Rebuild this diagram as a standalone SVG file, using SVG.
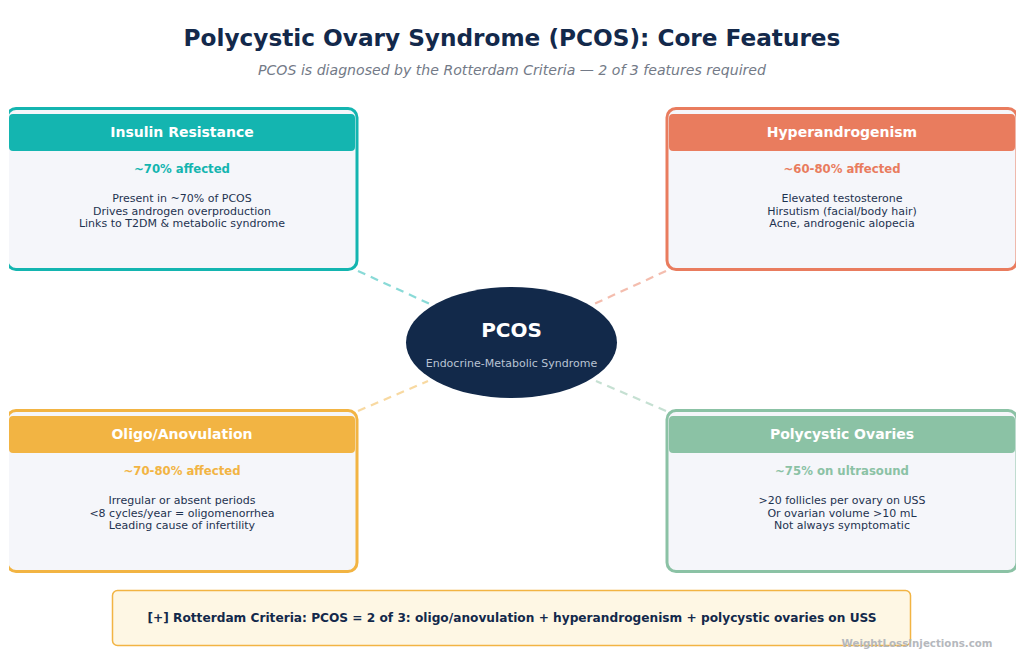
<svg xmlns="http://www.w3.org/2000/svg" width="1024" height="661" viewBox="0 0 1024 661">
<defs>
<clipPath id="vp"><rect x="9" y="0" width="1007" height="661"/></clipPath>
<style>
.card{fill:#f5f6fa;stroke-width:3}
.hdr{stroke:none}
.ht{font-family:"DejaVu Sans",sans-serif;font-weight:bold;font-size:14px;fill:#ffffff;text-anchor:middle}
.pct{font-family:"DejaVu Sans",sans-serif;font-weight:bold;font-size:11.7px;text-anchor:middle}
.body{font-family:"DejaVu Sans",sans-serif;font-size:11px;fill:#1e3350;text-anchor:middle}
.conn{fill:none;stroke-width:2.2;stroke-dasharray:8,6}
</style>
</defs>
<rect width="1024" height="661" fill="#ffffff"/>
<text x="512" y="46" text-anchor="middle" font-family="DejaVu Sans, sans-serif" font-weight="bold" font-size="23.2" fill="#13294b">Polycystic Ovary Syndrome (PCOS): Core Features</text>
<text x="512" y="75" text-anchor="middle" font-family="DejaVu Sans, sans-serif" font-style="italic" font-size="14.1" fill="#737a87">PCOS is diagnosed by the Rotterdam Criteria — 2 of 3 features required</text>

<g id="connectors">
<line class="conn" x1="358" y1="271" x2="430" y2="304" stroke="#14b5b0" stroke-opacity="0.5"/>
<line class="conn" x1="666" y1="271" x2="594" y2="304" stroke="#e97c5e" stroke-opacity="0.5"/>
<line class="conn" x1="358" y1="411" x2="428" y2="381" stroke="#f2b443" stroke-opacity="0.5"/>
<line class="conn" x1="666" y1="411" x2="596" y2="381" stroke="#8bc2a5" stroke-opacity="0.5"/>
</g>

<g clip-path="url(#vp)">
<g id="insulin">
<rect class="card" x="7" y="108.5" width="350" height="161" rx="9" stroke="#14b5b0"/>
<rect class="hdr" x="9" y="114" width="346" height="37" rx="4" fill="#14b5b0"/>
<text class="ht" x="182" y="137">Insulin Resistance</text>
<text class="pct" x="182" y="173" fill="#14b5b0">~70% affected</text>
<text class="body" x="182" y="202">Present in ~70% of PCOS</text>
<text class="body" x="182" y="214.7">Drives androgen overproduction</text>
<text class="body" x="182" y="227.4">Links to T2DM &amp; metabolic syndrome</text>
</g>
<g id="hyper">
<rect class="card" x="667" y="108.5" width="350" height="161" rx="9" stroke="#e97c5e"/>
<rect class="hdr" x="669" y="114" width="346" height="37" rx="4" fill="#e97c5e"/>
<text class="ht" x="842" y="137">Hyperandrogenism</text>
<text class="pct" x="842" y="173" fill="#e97c5e">~60-80% affected</text>
<text class="body" x="842" y="202">Elevated testosterone</text>
<text class="body" x="842" y="214.7">Hirsutism (facial/body hair)</text>
<text class="body" x="842" y="227.4">Acne, androgenic alopecia</text>
</g>
<g id="oligo">
<rect class="card" x="7" y="410.5" width="350" height="161" rx="9" stroke="#f2b443"/>
<rect class="hdr" x="9" y="416" width="346" height="37" rx="4" fill="#f2b443"/>
<text class="ht" x="182" y="439">Oligo/Anovulation</text>
<text class="pct" x="182" y="475" fill="#f2b443">~70-80% affected</text>
<text class="body" x="182" y="504">Irregular or absent periods</text>
<text class="body" x="182" y="516.7">&lt;8 cycles/year = oligomenorrhea</text>
<text class="body" x="182" y="529.4">Leading cause of infertility</text>
</g>
<g id="polycystic">
<rect class="card" x="667" y="410.5" width="350" height="161" rx="9" stroke="#8bc2a5"/>
<rect class="hdr" x="669" y="416" width="346" height="37" rx="4" fill="#8bc2a5"/>
<text class="ht" x="842" y="439">Polycystic Ovaries</text>
<text class="pct" x="842" y="475" fill="#8bc2a5">~75% on ultrasound</text>
<text class="body" x="842" y="504">&gt;20 follicles per ovary on USS</text>
<text class="body" x="842" y="516.7">Or ovarian volume &gt;10 mL</text>
<text class="body" x="842" y="529.4">Not always symptomatic</text>
</g>
</g>

<g id="center">
<ellipse cx="511.5" cy="342.5" rx="105.5" ry="55.5" fill="#12294a"/>
<text x="511.5" y="337" text-anchor="middle" font-family="DejaVu Sans, sans-serif" font-weight="bold" font-size="20" fill="#ffffff">PCOS</text>
<text x="511.5" y="367" text-anchor="middle" font-family="DejaVu Sans, sans-serif" font-size="11" fill="#b9c3d3">Endocrine-Metabolic Syndrome</text>
</g>

<g id="criteria">
<rect x="112.5" y="590.5" width="798" height="55" rx="5" fill="#fef7e4" stroke="#f2b443" stroke-width="1.5"/>
<text x="512" y="622" text-anchor="middle" font-family="DejaVu Sans, sans-serif" font-weight="bold" font-size="12.5" fill="#13294b" textLength="729" lengthAdjust="spacingAndGlyphs">[+] Rotterdam Criteria: PCOS = 2 of 3: oligo/anovulation + hyperandrogenism + polycystic ovaries on USS</text>
</g>
<text x="917" y="647" text-anchor="middle" font-family="DejaVu Sans, sans-serif" font-weight="bold" font-size="10" fill="#b5b8bd" textLength="151" lengthAdjust="spacingAndGlyphs">WeightLossInjections.com</text>
</svg>
